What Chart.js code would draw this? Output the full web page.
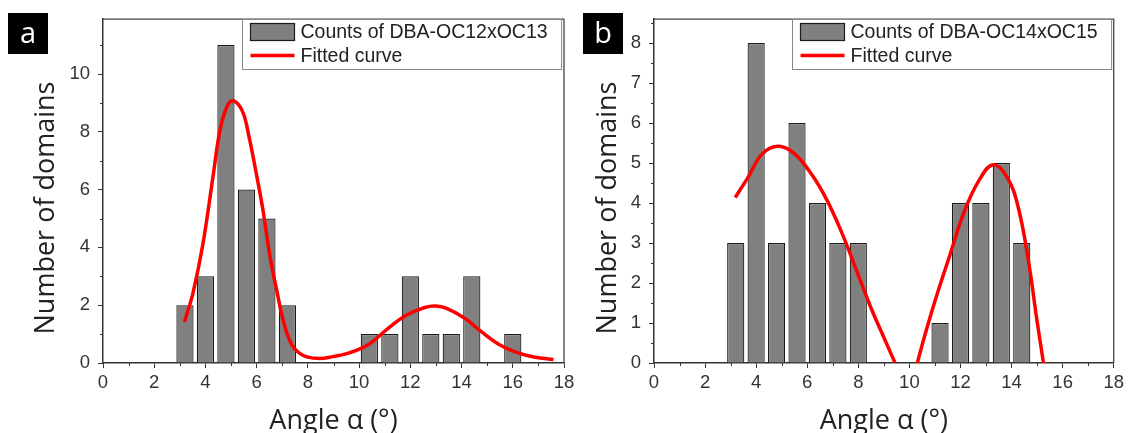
<!DOCTYPE html>
<html>
<head>
<meta charset="utf-8">
<script src="https://cdn.jsdelivr.net/npm/chart.js@4.4.1/dist/chart.umd.min.js"></script>
<style>
    html, body { margin: 0; padding: 0; background: #fff; }
    #wrap { position: relative; width: 1128px; height: 433px; overflow: hidden; }
    .panel { position: absolute; top: 0; height: 433px; }
    .tag {
        position: absolute; top: 13px; width: 40px; height: 41px;
        background: #000; color: #fff; text-align: center;
        font: 29px "Open Sans", sans-serif; line-height: 38px;
    }
</style>
</head>
<body>
<div id="wrap">
    <div class="panel" style="left:0;width:580px"><canvas id="chartA" width="580" height="433"></canvas></div>
    <div class="panel" style="left:570px;width:558px"><canvas id="chartB" width="558" height="433"></canvas></div>
    <div class="tag" style="left:8px">a</div>
    <div class="tag" style="left:583px">b</div>
</div>
<script>
// panel a : DBA-OC12xOC13
const binsA = [3.2, 4.0, 4.8, 5.6, 6.4, 7.2, 10.4, 11.2, 12.0, 12.8, 13.6, 14.4, 16.0];
const countsA = [2, 3, 11, 6, 5, 2, 1, 1, 3, 1, 1, 3, 1];
const fitXA = [3.18, 3.51, 3.91, 4.30, 4.58, 4.87, 5.11, 5.45, 5.69, 5.95, 6.24, 6.52, 6.78, 7.07, 7.39, 7.82,
    8.39, 8.97, 9.68, 10.40, 11.12, 11.84, 12.56, 12.99, 13.42, 14.14, 14.71, 15.43, 16.15, 16.87, 17.59];
const fitYA = [1.42, 2.41, 4.16, 6.48, 8.11, 8.93, 9.07, 8.70, 7.88, 6.72, 5.32, 3.69, 2.53, 1.36, 0.61, 0.26,
    0.16, 0.22, 0.37, 0.66, 1.19, 1.65, 1.92, 1.97, 1.89, 1.54, 1.13, 0.66, 0.37, 0.20, 0.12];

// panel b : DBA-OC14xOC15 (curve leaves the plot below zero between 9.4 and 10.3)
const binsB = [3.2, 4.0, 4.8, 5.6, 6.4, 7.2, 8.0, 11.2, 12.0, 12.8, 13.6, 14.4];
const countsB = [3, 8, 3, 6, 4, 3, 3, 1, 4, 4, 5, 3];
const fitXB = [3.18, 3.67, 4.24, 4.87, 5.51, 6.21, 6.78, 7.34, 7.91, 8.47, 9.04, 9.44, 9.9,
    10.31, 10.59, 11.02, 11.58, 12.15, 12.71, 13.28, 13.84, 14.27, 14.69, 14.97, 15.25];
const fitYB = [4.14, 4.63, 5.23, 5.42, 5.23, 4.68, 4.06, 3.28, 2.35, 1.42, 0.58, 0, null,
    0, 0.66, 1.59, 2.69, 3.79, 4.55, 4.96, 4.63, 3.87, 2.44, 1.17, 0];

const xTicks = [0, 2, 4, 6, 8, 10, 12, 14, 16, 18];
const xMinor = [1, 3, 5, 7, 9, 11, 13, 15, 17];
const yTicksA = [0, 2, 4, 6, 8, 10];
const yMinorA = [1, 3, 5, 7, 9, 11];
const yTicksB = [0, 1, 2, 3, 4, 5, 6, 7, 8];
const yMinorB = [0.5, 1.5, 2.5, 3.5, 4.5, 5.5, 6.5, 7.5, 8.5];

const TICK_FONT = { family: 'Liberation Sans', size: 18.5 };
const TITLE_FONT = '27px "Open Sans"';
const LEGEND_FONT = '19.5px "Liberation Sans"';

// frame, minor ticks, axis titles and the boxed legend
const panelDecor = {
    id: 'panelDecor',
    afterDraw(chart, args, opts) {
        const ctx = chart.ctx;
        const { left, right, top, bottom } = chart.chartArea;
        const xs = chart.scales.x, ys = chart.scales.y;
        ctx.save();

        ctx.strokeStyle = '#444';
        ctx.lineWidth = 1.3;
        ctx.beginPath();
        ctx.moveTo(left, top); ctx.lineTo(right, top); ctx.lineTo(right, bottom);
        ctx.stroke();

        ctx.strokeStyle = '#333';
        ctx.lineWidth = 1;
        ctx.beginPath();
        opts.xMinor.forEach(v => {
            const px = Math.round(xs.getPixelForValue(v)) + 0.5;
            ctx.moveTo(px, bottom); ctx.lineTo(px, bottom + 3);
        });
        opts.yMinor.forEach(v => {
            const py = Math.round(ys.getPixelForValue(v)) + 0.5;
            ctx.moveTo(left - 3, py); ctx.lineTo(left, py);
        });
        ctx.stroke();

        // axis titles
        ctx.fillStyle = '#222';
        ctx.font = TITLE_FONT;
        ctx.textAlign = 'center';
        ctx.textBaseline = 'middle';
        ctx.fillText(opts.xTitle, (left + right) / 2, 421);
        ctx.save();
        ctx.translate(opts.yTitleX, 208);
        ctx.rotate(-Math.PI / 2);
        ctx.fillText(opts.yTitle, 0, 0);
        ctx.restore();

        // legend box in the upper right corner
        const bars = chart.data.datasets[0], fit = chart.data.datasets[1];
        ctx.font = LEGEND_FONT;
        const w = 58 + Math.max(ctx.measureText(bars.label).width, ctx.measureText(fit.label).width) + 14;
        const h = 50;
        const bx = Math.round(right - 3 - w) + 0.5, by = Math.round(top) + 0.5;
        ctx.fillStyle = '#fff';
        ctx.fillRect(bx, by, w, h);
        ctx.strokeStyle = '#888';
        ctx.lineWidth = 1;
        ctx.strokeRect(bx, by, w, h);

        ctx.fillStyle = bars.backgroundColor;
        ctx.fillRect(bx + 8, by + 4, 44, 17);
        ctx.strokeStyle = bars.borderColor;
        ctx.lineWidth = 1.2;
        ctx.strokeRect(bx + 8, by + 4, 44, 17);

        ctx.strokeStyle = fit.borderColor;
        ctx.lineWidth = 3.5;
        ctx.beginPath();
        ctx.moveTo(bx + 8, by + 36); ctx.lineTo(bx + 52, by + 36);
        ctx.stroke();

        ctx.fillStyle = '#222';
        ctx.textAlign = 'left';
        ctx.fillText(bars.label, bx + 58, by + 13);
        ctx.fillText(fit.label, bx + 58, by + 37);
        ctx.restore();
    }
};

function makeChart(canvasId, p) {
    const ctx = document.getElementById(canvasId).getContext('2d');
    return new Chart(ctx, {
        type: 'bar',
        data: {
            datasets: [{
                type: 'bar',
                label: p.label,
                data: p.bins.map((x, i) => ({ x: x, y: p.counts[i] })),
                backgroundColor: '#808080',
                borderColor: '#1a1a1a',
                borderWidth: 1.2,
                barPercentage: 0.84,
                categoryPercentage: 1.0,
                order: 2
            }, {
                type: 'line',
                label: 'Fitted curve',
                data: p.fitX.map((x, i) => ({ x: x, y: p.fitY[i] })),
                borderColor: '#ff0000',
                borderWidth: 3.5,
                pointRadius: 0,
                tension: 0.4,
                fill: false,
                spanGaps: false,
                order: 1
            }]
        },
        options: {
            responsive: false,
            animation: false,
            layout: { padding: { left: 0, right: p.padRight, top: 19, bottom: 0 } },
            plugins: {
                legend: { display: false },
                tooltip: { enabled: false },
                panelDecor: {
                    xMinor: xMinor, yMinor: p.yMinor,
                    xTitle: 'Angle α (°)', yTitle: 'Number of domains', yTitleX: p.yTitleX
                }
            },
            scales: {
                x: {
                    type: 'linear', min: 0, max: 18, offset: false,
                    grid: { drawOnChartArea: false, tickLength: 5, color: '#333', offset: false },
                    border: { color: '#333', width: 1.5 },
                    ticks: { font: TICK_FONT, color: '#333', padding: 4, maxRotation: 0, autoSkip: false },
                    afterBuildTicks: s => { s.ticks = xTicks.map(v => ({ value: v })); },
                    afterFit: s => { s.height = 70; }
                },
                y: {
                    type: 'linear', min: 0, max: p.yMax,
                    grid: { drawOnChartArea: false, tickLength: 5, color: '#333' },
                    border: { color: '#333', width: 1.5 },
                    ticks: { font: TICK_FONT, color: '#333', padding: 8 },
                    afterBuildTicks: s => { s.ticks = p.yTicks.map(v => ({ value: v })); },
                    afterFit: s => { s.width = p.yWidth; }
                }
            }
        },
        plugins: [panelDecor]
    });
}

makeChart('chartA', {
    label: 'Counts of DBA-OC12xOC13',
    bins: binsA, counts: countsA, fitX: fitXA, fitY: fitYA,
    yMax: 11.9, yTicks: yTicksA, yMinor: yMinorA,
    yWidth: 103, padRight: 16, yTitleX: 46
});

makeChart('chartB', {
    label: 'Counts of DBA-OC14xOC15',
    bins: binsB, counts: countsB, fitX: fitXB, fitY: fitYB,
    yMax: 8.6, yTicks: yTicksB, yMinor: yMinorB,
    yWidth: 84, padRight: 12, yTitleX: 38
});
</script>
</body>
</html>
